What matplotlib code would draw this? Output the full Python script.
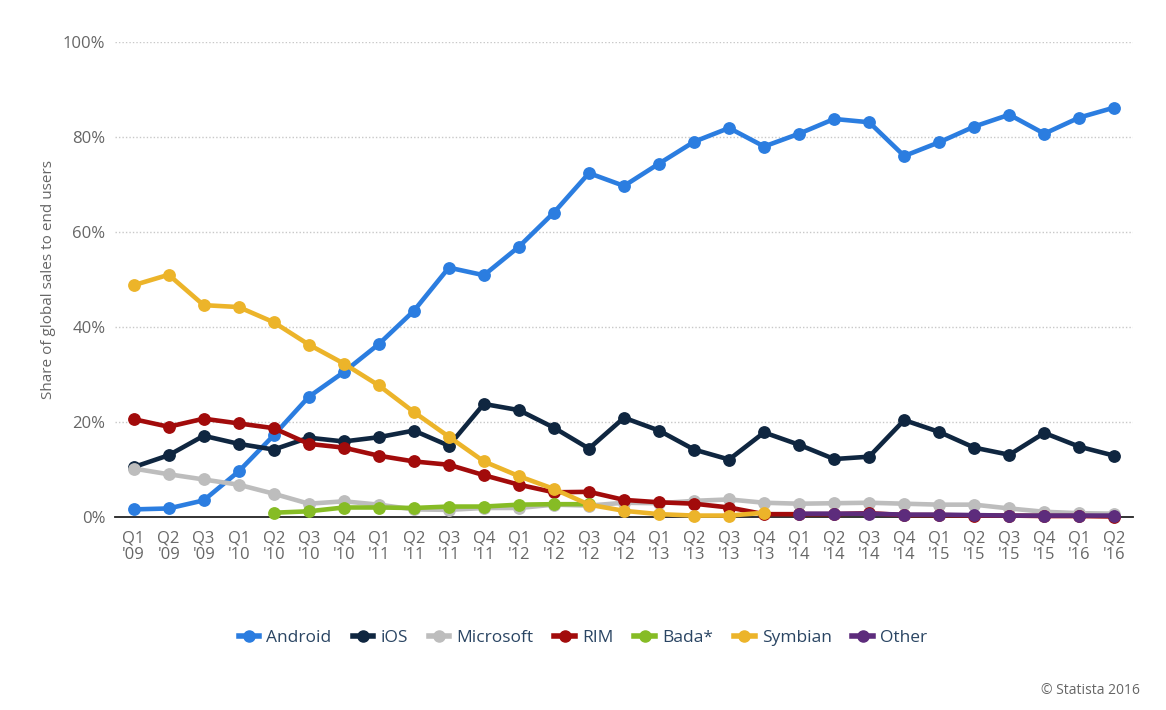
import numpy as np
import matplotlib
matplotlib.use("Agg")
import matplotlib.pyplot as plt
from matplotlib.lines import Line2D

nan = np.nan
quarters = ["Q1\n'09", "Q2\n'09", "Q3\n'09", "Q1\n'10", "Q2\n'10", "Q3\n'10", "Q4\n'10",
            "Q1\n'11", "Q2\n'11", "Q3\n'11", "Q4\n'11", "Q1\n'12", "Q2\n'12", "Q3\n'12",
            "Q4\n'12", "Q1\n'13", "Q2\n'13", "Q3\n'13", "Q4\n'13", "Q1\n'14", "Q2\n'14",
            "Q3\n'14", "Q4\n'14", "Q1\n'15", "Q2\n'15", "Q3\n'15", "Q4\n'15", "Q1\n'16", "Q2\n'16"]

android = [1.6, 1.8, 3.5, 9.6, 17.2, 25.3, 30.5, 36.4, 43.4, 52.5, 50.9, 56.9, 64.1, 72.4,
           69.7, 74.4, 79.0, 81.9, 78.0, 80.7, 83.8, 83.1, 76.0, 78.9, 82.2, 84.7, 80.7, 84.1, 86.2]
ios = [10.5, 13.0, 17.1, 15.4, 14.2, 16.7, 15.9, 16.8, 18.2, 15.0, 23.8, 22.5, 18.8, 14.4,
       20.9, 18.2, 14.2, 12.1, 17.8, 15.2, 12.2, 12.7, 20.4, 17.9, 14.6, 13.1, 17.7, 14.8, 12.9]
microsoft = [10.2, 9.0, 7.9, 6.8, 4.9, 2.8, 3.3, 2.6, 1.6, 1.5, 1.9, 1.9, 2.6, 2.4,
             3.0, 2.9, 3.4, 3.7, 3.0, 2.8, 2.9, 3.0, 2.8, 2.6, 2.6, 1.8, 1.1, 0.8, 0.7]
rim = [20.6, 19.0, 20.7, 19.7, 18.7, 15.4, 14.6, 12.9, 11.7, 11.0, 8.8, 6.8, 5.2, 5.3,
       3.6, 3.1, 2.8, 2.0, 0.6, 0.6, 0.6, 0.8, 0.4, 0.4, 0.3, 0.3, 0.2, 0.2, 0.1]
bada = [nan, nan, nan, nan, 0.9, 1.2, 2.0, 2.0, 1.9, 2.2, 2.2, 2.6, 2.7, 2.7,
        nan, nan, nan, nan, nan, nan, nan, nan, nan, nan, nan, nan, nan, nan, nan]
symbian = [48.8, 51.0, 44.6, 44.2, 41.0, 36.3, 32.3, 27.7, 22.1, 16.9, 11.7, 8.6, 5.9, 2.6,
           1.3, 0.6, 0.3, 0.3, 0.9, nan, nan, nan, nan, nan, nan, nan, nan, nan, nan]
other = [nan, nan, nan, nan, nan, nan, nan, nan, nan, nan, nan, nan, nan, nan,
         nan, nan, nan, nan, nan, 0.7, 0.7, 0.7, 0.5, 0.5, 0.4, 0.3, 0.3, 0.3, 0.3]

series_names = ["Android", "iOS", "Microsoft", "RIM", "Bada*", "Symbian", "Other"]
series_values = [android, ios, microsoft, rim, bada, symbian, other]
colors = ["#2b7de0", "#0f2640", "#bdbdbd", "#a20b0b", "#86bc25", "#ecb42a", "#5d2c7c"]
yticks = [0, 20, 40, 60, 80, 100]

plt.rcParams['font.family'] = ['Open Sans', 'DejaVu Sans']

W, H = 1166, 710
fig = plt.figure(figsize=(W / 100, H / 100), dpi=100)
ax = fig.add_axes([115 / W, 1 - 517 / H, (1133 - 115) / W, (517 - 42) / H])

x = np.arange(len(quarters))
for i, (name, vals, c) in enumerate(zip(series_names, series_values, colors)):
    ax.plot(x, vals, color=c, lw=3.3, marker='o', ms=8.2, mec=c, mfc=c,
            zorder=3 + i, clip_on=False, solid_capstyle='round')

ax.set_xlim(-(133 - 115) / 33.86, 28 + (1133 - 1115) / 33.86)
ax.set_ylim(0, 100)
ax.set_yticks(yticks)
ax.set_yticklabels([f"{v}%" for v in yticks])
ax.set_xticks(x)
ax.set_xticklabels(quarters, linespacing=1.05)

for v in yticks[1:]:
    ax.axhline(v, color="#c8c8c8", lw=1.0, ls=(0, (1, 1.5)), zorder=1)

for s in ["top", "right", "left"]:
    ax.spines[s].set_visible(False)
ax.spines["bottom"].set_color("#222222")
ax.spines["bottom"].set_linewidth(1.3)
ax.spines["bottom"].set_zorder(2)

ax.tick_params(axis='y', length=0, pad=7, labelsize=12, labelcolor="#666666")
ax.tick_params(axis='x', length=0, pad=10, labelsize=12, labelcolor="#666666")

ax.set_ylabel("Share of global sales to end users", fontsize=11, color="#666666", labelpad=5)

handles = [Line2D([0], [0], color=c, lw=4, marker='o', ms=8, mfc=c, mec=c) for c in colors]
fig.legend(handles, series_names, loc='center', bbox_to_anchor=(0.5, 1 - 638 / H), ncol=7,
           frameon=False, fontsize=12.5, labelcolor="#2a4563", handlelength=1.2,
           handletextpad=0.4, columnspacing=1.2)

fig.text(1140 / W, 1 - 690 / H, "© Statista 2016", ha='right', va='center', fontsize=10,
         color="#666666")

fig.savefig("out.png", dpi=100, facecolor="white")
